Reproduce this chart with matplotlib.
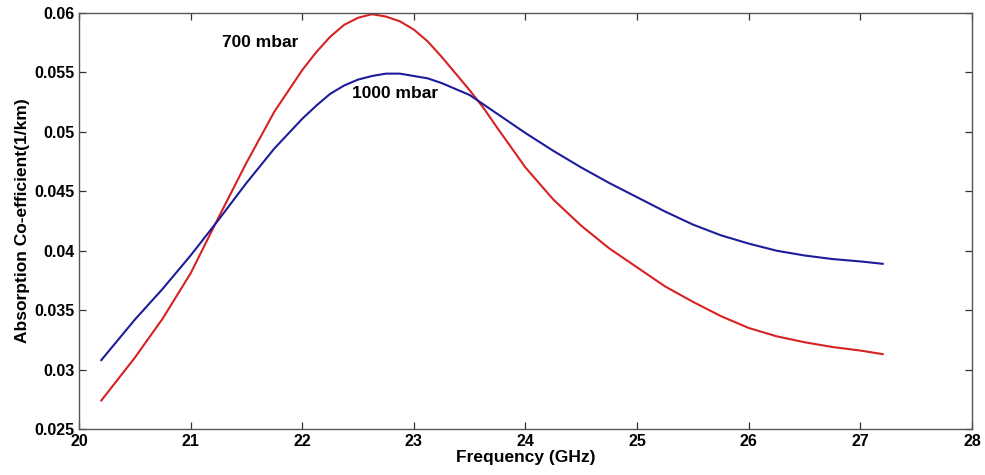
import matplotlib
matplotlib.use("Agg")
import matplotlib.pyplot as plt
from matplotlib.ticker import FuncFormatter

freq = [20.2, 20.5, 20.75, 21, 21.25, 21.5, 21.75, 22, 22.125, 22.25, 22.375,
        22.5, 22.625, 22.75, 22.875, 23, 23.125, 23.25, 23.375, 23.5, 23.625,
        23.75, 24, 24.25, 24.5, 24.75, 25, 25.25, 25.5, 25.75, 26, 26.25,
        26.5, 26.75, 27, 27.2]
abs_700 = [0.0274, 0.0310, 0.0343, 0.0381, 0.0428, 0.0474, 0.0517, 0.0552,
           0.0567, 0.0580, 0.0590, 0.0596, 0.0599, 0.0597, 0.0593, 0.0586,
           0.0576, 0.0563, 0.0549, 0.0535, 0.0520, 0.0503, 0.0470, 0.0443,
           0.0421, 0.0402, 0.0386, 0.0370, 0.0357, 0.0345, 0.0335, 0.0328,
           0.0323, 0.0319, 0.0316, 0.0313]
abs_1000 = [0.0308, 0.0342, 0.0368, 0.0396, 0.0426, 0.0457, 0.0486, 0.0511,
            0.0522, 0.0532, 0.0539, 0.0544, 0.0547, 0.0549, 0.0549, 0.0547,
            0.0545, 0.0541, 0.0536, 0.0531, 0.0523, 0.0515, 0.0499, 0.0484,
            0.0470, 0.0457, 0.0445, 0.0433, 0.0422, 0.0413, 0.0406, 0.0400,
            0.0396, 0.0393, 0.0391, 0.0389]
xticks = [20, 21, 22, 23, 24, 25, 26, 27, 28]
yticks = [0.025, 0.03, 0.035, 0.04, 0.045, 0.05, 0.055, 0.06]

plt.rcParams['font.family'] = ['Liberation Sans', 'DejaVu Sans']
fig = plt.figure(figsize=(9.85, 4.75), dpi=100)
ax = fig.add_axes([0.0802, 0.0968, 0.9066, 0.8758])

ax.plot(freq, abs_700, color='#d62222', lw=1.5, solid_joinstyle='round')
ax.plot(freq, abs_1000, color='#1c1c9c', lw=1.5, solid_joinstyle='round')

ax.text(21.28, 0.0575, '700 mbar', fontsize=12.5, fontweight='bold', va='center', ha='left')
ax.text(22.45, 0.0532, '1000 mbar', fontsize=12.5, fontweight='bold', va='center', ha='left')

ax.set_xlim(20, 28)
ax.set_ylim(0.025, 0.06)
ax.set_xticks(xticks)
ax.set_yticks(yticks)
ax.yaxis.set_major_formatter(FuncFormatter(lambda v, p: f"{v:g}"))
ax.tick_params(direction='in', length=5, top=True, right=True, labelsize=11.5,
               color='#333333', width=0.9)
for lab in ax.get_xticklabels() + ax.get_yticklabels():
    lab.set_fontweight('bold')
for s in ax.spines.values():
    s.set_color('#555555')
    s.set_linewidth(1.0)

ax.set_xlabel('Frequency (GHz)', fontsize=12.5, fontweight='bold', labelpad=1)
ax.set_ylabel('Absorption Co-efficient(1/km)', fontsize=12.5, fontweight='bold', labelpad=3)

fig.savefig('out.png', dpi=100)
